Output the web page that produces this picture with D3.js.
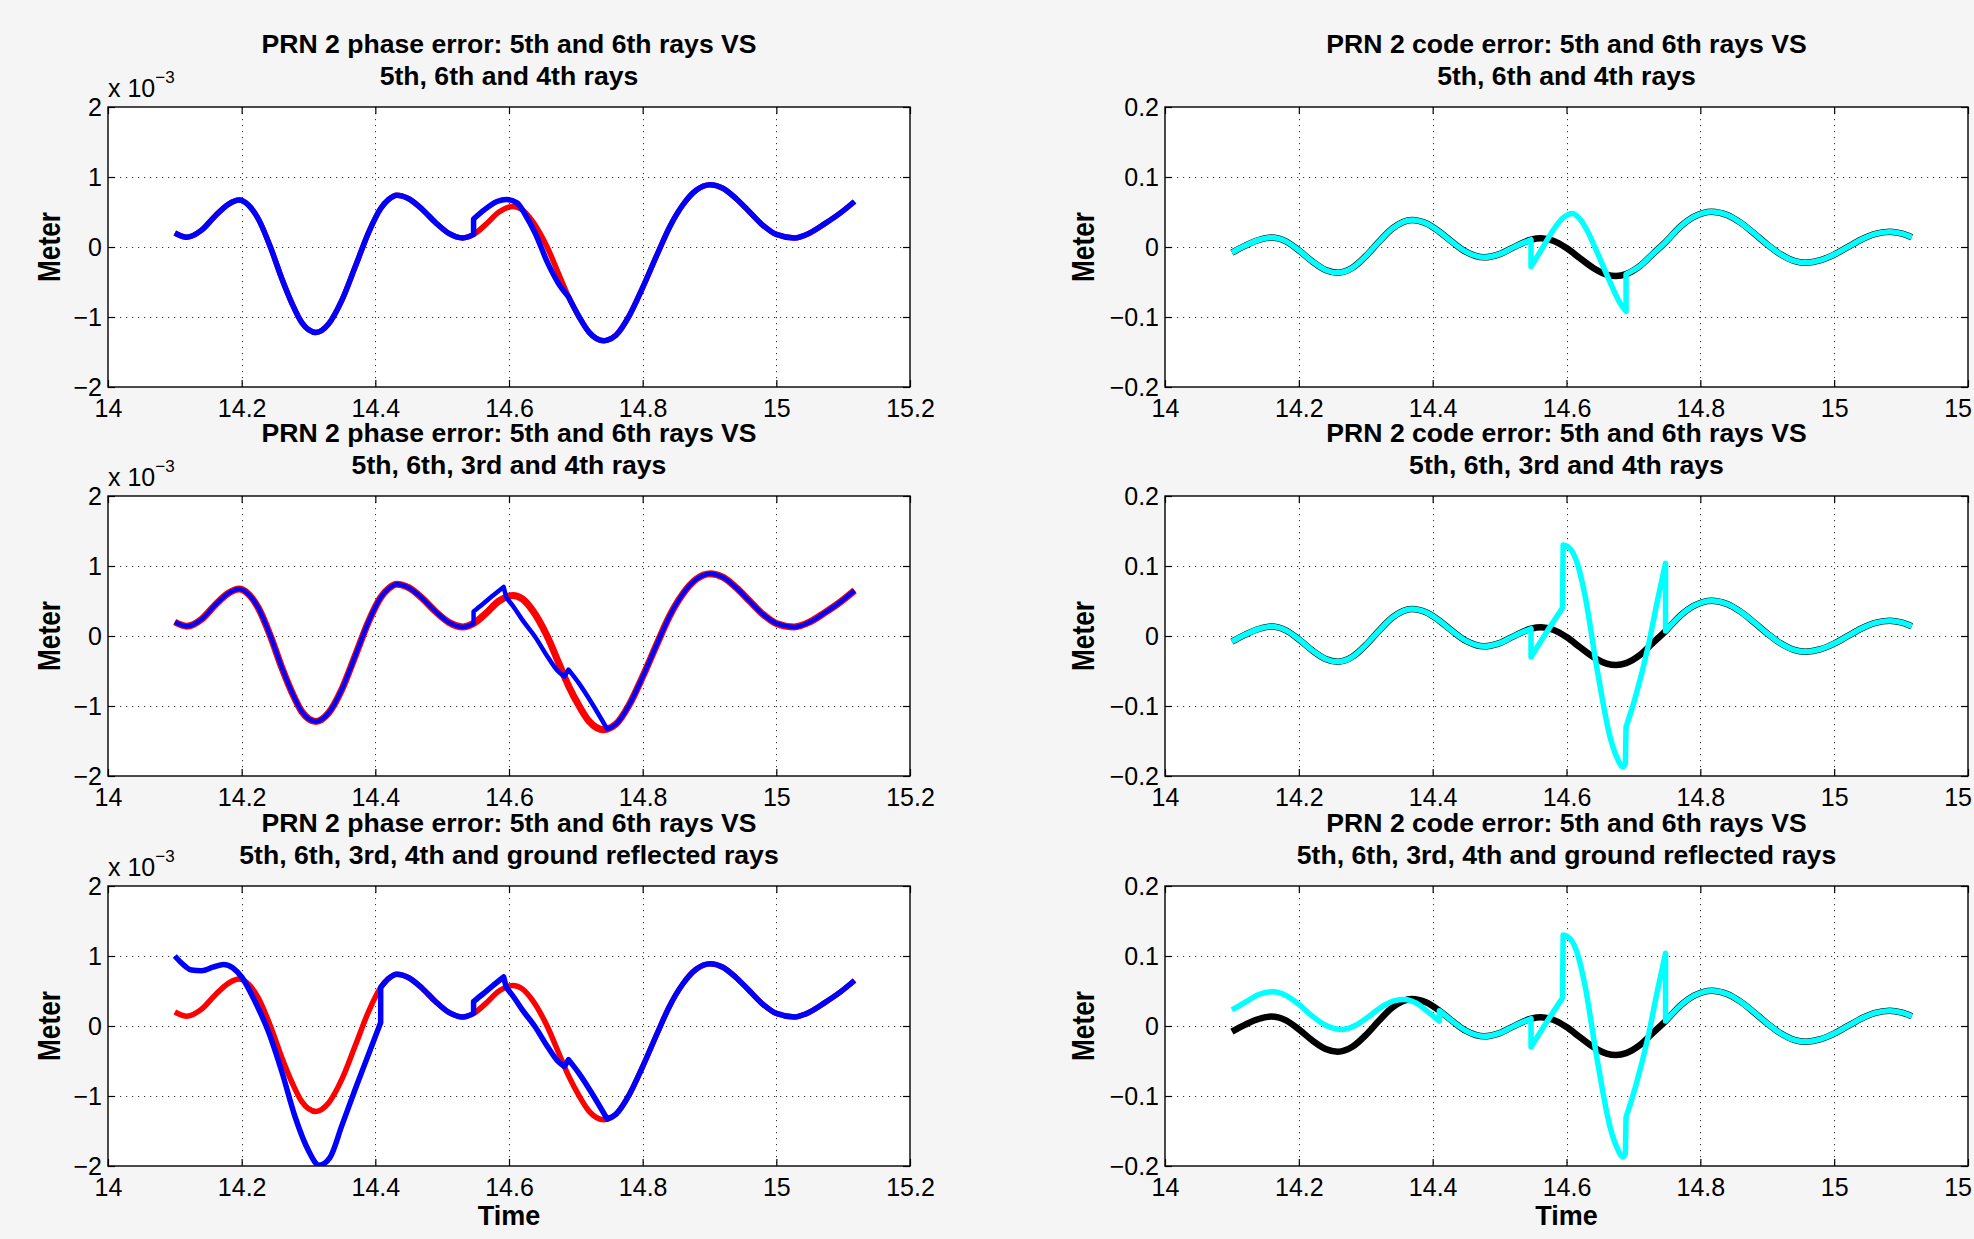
<!DOCTYPE html>
<html>
<head>
<meta charset="utf-8">
<script src="https://cdn.jsdelivr.net/npm/d3@7"></script>
<style>
  html, body { margin: 0; padding: 0; background: #f5f5f5; }
  svg { display: block; }
  text { font-family: "Liberation Sans", Arial, Helvetica, sans-serif; fill: #000; }
</style>
</head>
<body>
<svg id="fig" width="1974" height="1239"></svg>
<script>
// ---------------- tick values and labels ----------------
const timeTicks = [14, 14.2, 14.4, 14.6, 14.8, 15, 15.2];
const timeTickLabels = ["14", "14.2", "14.4", "14.6", "14.8", "15", "15.2"];
const phaseTicks = [-2, -1, 0, 1, 2];
const phaseTickLabels = ["\u22122", "\u22121", "0", "1", "2"];
const codeTicks = [-0.2, -0.1, 0, 0.1, 0.2];
const codeTickLabels = ["\u22120.2", "\u22120.1", "0", "0.1", "0.2"];

const phaseTitles = [
  ["PRN 2 phase error: 5th and 6th rays VS", "5th, 6th and 4th rays"],
  ["PRN 2 phase error: 5th and 6th rays VS", "5th, 6th, 3rd and 4th rays"],
  ["PRN 2 phase error: 5th and 6th rays VS", "5th, 6th, 3rd, 4th and ground reflected rays"]
];
const codeTitles = [
  ["PRN 2 code error: 5th and 6th rays VS", "5th, 6th and 4th rays"],
  ["PRN 2 code error: 5th and 6th rays VS", "5th, 6th, 3rd and 4th rays"],
  ["PRN 2 code error: 5th and 6th rays VS", "5th, 6th, 3rd, 4th and ground reflected rays"]
];

// ---------------- phase error (x 1e-3 m) ----------------
// 5th and 6th rays only: [time, error]
const phaseRef = [
  [14.100, 0.20], [14.118, 0.14], [14.140, 0.24], [14.160, 0.44], [14.180, 0.61],
  [14.196, 0.67], [14.210, 0.60], [14.225, 0.40], [14.243, 0.00], [14.260, -0.45],
  [14.275, -0.80], [14.290, -1.08], [14.311, -1.22], [14.330, -1.10], [14.350, -0.76],
  [14.370, -0.28], [14.390, 0.21], [14.408, 0.55], [14.420, 0.68], [14.432, 0.74],
  [14.450, 0.69], [14.470, 0.54], [14.490, 0.35], [14.510, 0.195], [14.531, 0.13],
  [14.547, 0.18], [14.565, 0.32], [14.585, 0.50], [14.606, 0.58], [14.620, 0.53],
  [14.635, 0.37], [14.657, 0.00], [14.675, -0.40], [14.689, -0.71], [14.705, -1.00],
  [14.720, -1.22], [14.742, -1.34], [14.747, -1.33], [14.760, -1.26], [14.780, -0.98],
  [14.800, -0.58], [14.822, -0.10], [14.840, 0.28], [14.860, 0.60], [14.880, 0.81],
  [14.901, 0.89], [14.920, 0.84], [14.940, 0.69], [14.960, 0.50], [14.980, 0.31],
  [15.000, 0.18], [15.027, 0.13], [15.050, 0.20], [15.072, 0.33], [15.095, 0.48],
  [15.117, 0.65]
];
// stretch where the 4th ray is added (one continuous piece)
const phaseWith4th = [
  [[14.547, 0.40], [14.563, 0.53], [14.582, 0.65], [14.596, 0.68], [14.612, 0.63],
   [14.625, 0.45], [14.639, 0.20], [14.658, -0.23], [14.676, -0.55], [14.689, -0.71]]
];
// stretch where the 3rd and 4th rays are added (pieces split at the jumps)
const phaseWith3rd4th = [
  [[14.547, 0.35], [14.560, 0.45], [14.575, 0.57], [14.592, 0.70]],
  [[14.596, 0.55], [14.608, 0.40], [14.620, 0.23], [14.639, -0.01], [14.658, -0.30],
   [14.672, -0.49], [14.683, -0.58]],
  [[14.689, -0.48], [14.705, -0.68], [14.724, -0.96], [14.747, -1.33]]
];
// early stretch where the ground reflected ray is added
const phaseWithGround = [
  [[14.100, 1.00], [14.110, 0.90], [14.125, 0.80], [14.140, 0.79], [14.157, 0.84],
   [14.173, 0.88], [14.187, 0.83], [14.200, 0.70], [14.220, 0.35], [14.240, -0.08],
   [14.260, -0.65], [14.280, -1.30], [14.300, -1.78], [14.316, -1.99], [14.332, -1.88],
   [14.350, -1.42], [14.370, -0.90], [14.390, -0.40], [14.408, 0.05]]
];

// ---------------- code error (m) ----------------
const codeRef = [
  [14.100, -0.008], [14.120, 0.002], [14.140, 0.010], [14.159, 0.0135], [14.180, 0.0084],
  [14.200, -0.0047], [14.220, -0.0205], [14.240, -0.0328], [14.258, -0.0367], [14.280, -0.0297],
  [14.300, -0.013], [14.320, 0.0078], [14.340, 0.0266], [14.369, 0.0386], [14.390, 0.0338],
  [14.410, 0.0218], [14.430, 0.0065], [14.450, -0.007], [14.477, -0.0148], [14.500, -0.0102],
  [14.520, -0.0009], [14.547, 0.0104], [14.562, 0.0124], [14.580, 0.009], [14.600, -0.0015],
  [14.620, -0.016], [14.640, -0.030], [14.660, -0.0394], [14.674, -0.0414], [14.689, -0.0388],
  [14.710, -0.027], [14.730, -0.009], [14.748, 0.007], [14.770, 0.029], [14.790, 0.043],
  [14.817, 0.0505], [14.840, 0.0458], [14.860, 0.0348], [14.880, 0.0197], [14.900, 0.0036],
  [14.920, -0.0105], [14.940, -0.0198], [14.957, -0.0224], [14.980, -0.0188], [15.000, -0.0108],
  [15.020, -0.0003], [15.040, 0.0103], [15.060, 0.0184], [15.083, 0.0219], [15.100, 0.0195],
  [15.116, 0.014]
];
const codeWith4th = [
  [[14.547, -0.028], [14.565, 0.000], [14.580, 0.024], [14.594, 0.041], [14.609, 0.048],
   [14.620, 0.040], [14.630, 0.025], [14.646, -0.008], [14.665, -0.050], [14.680, -0.080],
   [14.689, -0.092]]
];
const codeWith3rd4th = [
  [[14.547, -0.030], [14.570, 0.005], [14.594, 0.040]],
  [[14.595, 0.130], [14.601, 0.128], [14.609, 0.120], [14.618, 0.098], [14.627, 0.061],
   [14.646, -0.049], [14.665, -0.144], [14.677, -0.177], [14.684, -0.187], [14.688, -0.182]],
  [[14.689, -0.130], [14.703, -0.087], [14.722, -0.015], [14.736, 0.051], [14.748, 0.104]]
];
const codeWithGround = [
  [[14.100, 0.023], [14.120, 0.034], [14.140, 0.045], [14.162, 0.049], [14.180, 0.044],
   [14.200, 0.031], [14.220, 0.014], [14.240, 0.001], [14.265, -0.005], [14.285, 0.001],
   [14.305, 0.014], [14.325, 0.028], [14.342, 0.036], [14.358, 0.038], [14.375, 0.033],
   [14.392, 0.021], [14.410, 0.007]]
];

// ---------------- assemble series ----------------
const span = (arr, a, b) => arr.filter(d => d[0] >= a - 1e-9 && d[0] <= b + 1e-9);

const phaseSeries = [
  [span(phaseRef, 14.1, 14.547), ...phaseWith4th, span(phaseRef, 14.689, 15.2)],
  [span(phaseRef, 14.1, 14.547), ...phaseWith3rd4th, span(phaseRef, 14.747, 15.2)],
  [...phaseWithGround, span(phaseRef, 14.408, 14.547), ...phaseWith3rd4th, span(phaseRef, 14.747, 15.2)]
];
const codeSeries = [
  [span(codeRef, 14.1, 14.547), ...codeWith4th, span(codeRef, 14.689, 15.2)],
  [span(codeRef, 14.1, 14.547), ...codeWith3rd4th, span(codeRef, 14.748, 15.2)],
  [...codeWithGround, span(codeRef, 14.41, 14.547), ...codeWith3rd4th, span(codeRef, 14.748, 15.2)]
];

// ---------------- layout ----------------
const svg = d3.select("#fig");
const rowTop = [107, 496, 886];
const axH = 280;
const cols = [
  { left: 108, width: 802, yDomain: [-2, 2], ticks: phaseTicks, labels: phaseTickLabels,
    titles: phaseTitles, series: phaseSeries, ref: phaseRef,
    refColor: "#ff0000", altColor: "#0000ff", labelX: 48, exponent: true },
  { left: 1165, width: 803, yDomain: [-0.2, 0.2], ticks: codeTicks, labels: codeTickLabels,
    titles: codeTitles, series: codeSeries, ref: codeRef,
    refColor: "#000000", altColor: "#00ffff", labelX: 71, exponent: false }
];

// a series is a list of smooth pieces joined by straight jumps
function piecewisePath(pieces, x, y) {
  const gen = d3.line().x(d => x(d[0])).y(d => y(d[1])).curve(d3.curveMonotoneX);
  return pieces.filter(p => p.length > 1)
    .map((p, i) => { const d = gen(p); return i ? "L" + d.slice(1) : d; })
    .join("");
}

const font = '"Liberation Sans", Arial, Helvetica, sans-serif';
let clipId = 0;

cols.forEach((c, ci) => {
  rowTop.forEach((top, ri) => {
    const x = d3.scaleLinear().domain([14, 15.2]).range([c.left, c.left + c.width]);
    const y = d3.scaleLinear().domain(c.yDomain).range([top + axH, top]);
    const g = svg.append("g");

    g.append("rect").attr("x", c.left).attr("y", top)
      .attr("width", c.width).attr("height", axH).attr("fill", "#fff");

    // dotted grid
    const grid = g.append("g").attr("stroke", "#333").attr("stroke-width", 1)
      .attr("stroke-dasharray", "1.2,4.8");
    grid.selectAll("line.gx").data(timeTicks.slice(1, -1)).join("line")
      .attr("x1", d => Math.round(x(d)) + 0.5).attr("x2", d => Math.round(x(d)) + 0.5)
      .attr("y1", top).attr("y2", top + axH);
    grid.selectAll("line.gy").data(c.ticks.slice(1, -1)).join("line")
      .attr("y1", d => Math.round(y(d)) + 0.5).attr("y2", d => Math.round(y(d)) + 0.5)
      .attr("x1", c.left).attr("x2", c.left + c.width);

    // curves
    const cid = "clip" + (clipId++);
    svg.append("clipPath").attr("id", cid).append("rect")
      .attr("x", c.left).attr("y", top).attr("width", c.width).attr("height", axH);
    const lines = g.append("g").attr("clip-path", `url(#${cid})`)
      .attr("fill", "none").attr("stroke-linejoin", "round").attr("stroke-linecap", "butt");
    const refW = (ci === 0 && ri === 1) ? 7 : (ci === 0 ? 5.5 : 6.5);
    const altW = (ci === 0 && ri === 1) ? 4.5 : (ci === 0 ? 5.5 : 5.5);
    lines.append("path").attr("d", piecewisePath([c.ref], x, y))
      .attr("stroke", c.refColor).attr("stroke-width", refW);
    lines.append("path").attr("d", piecewisePath(c.series[ri], x, y))
      .attr("stroke", c.altColor).attr("stroke-width", altW);

    // axes: ticks pointing inward on all four sides
    const styleAxis = sel => {
      sel.select(".domain").remove();
      sel.selectAll(".tick line").attr("stroke", "#000").attr("stroke-width", 1.2);
      sel.selectAll("text").attr("font-family", font).attr("font-size", 25).attr("fill", "#000");
      sel.attr("font-family", null).attr("font-size", null);
    };
    g.append("g").attr("transform", `translate(0,${top + axH})`)
      .call(d3.axisBottom(x).tickValues(timeTicks).tickSizeInner(-7).tickSizeOuter(0)
        .tickPadding(12.5).tickFormat((d, i) => timeTickLabels[i]))
      .call(styleAxis);
    g.append("g").attr("transform", `translate(0,${top})`)
      .call(d3.axisTop(x).tickValues(timeTicks).tickSizeInner(-7).tickSizeOuter(0).tickFormat(""))
      .call(styleAxis);
    g.append("g").attr("transform", `translate(${c.left},0)`)
      .call(d3.axisLeft(y).tickValues(c.ticks).tickSizeInner(-7).tickSizeOuter(0)
        .tickPadding(6).tickFormat((d, i) => c.labels[i]))
      .call(styleAxis);
    g.append("g").attr("transform", `translate(${c.left + c.width},0)`)
      .call(d3.axisRight(y).tickValues(c.ticks).tickSizeInner(-7).tickSizeOuter(0).tickFormat(""))
      .call(styleAxis);

    g.append("rect").attr("x", c.left).attr("y", top)
      .attr("width", c.width).attr("height", axH)
      .attr("fill", "none").attr("stroke", "#000").attr("stroke-width", 1.4);

    // title
    const cx = c.left + c.width / 2;
    const title = g.append("text").attr("text-anchor", "middle")
      .attr("font-family", font).attr("font-weight", "bold").attr("font-size", 26.6);
    title.append("tspan").attr("x", cx).attr("y", top - 54).text(c.titles[ri][0]);
    title.append("tspan").attr("x", cx).attr("y", top - 22).text(c.titles[ri][1]);

    // exponent marker
    if (c.exponent) {
      const ex = g.append("text").attr("x", c.left).attr("y", top - 10)
        .attr("font-family", font).attr("font-size", 25);
      ex.append("tspan").text("x 10");
      ex.append("tspan").attr("dy", -14).attr("font-size", 17).text("\u22123");
    }

    // y label
    g.append("text")
      .attr("transform", `translate(${c.left - c.labelX},${top + axH / 2}) rotate(-90) scale(0.82,1)`)
      .attr("text-anchor", "middle").attr("font-family", font)
      .attr("font-weight", "bold").attr("font-size", 32).text("Meter");

    if (ri === 2) {
      g.append("text").attr("x", cx).attr("y", top + axH + 59)
        .attr("text-anchor", "middle").attr("font-family", font)
        .attr("font-weight", "bold").attr("font-size", 27).text("Time");
    }
  });
});
</script>
</body>
</html>
